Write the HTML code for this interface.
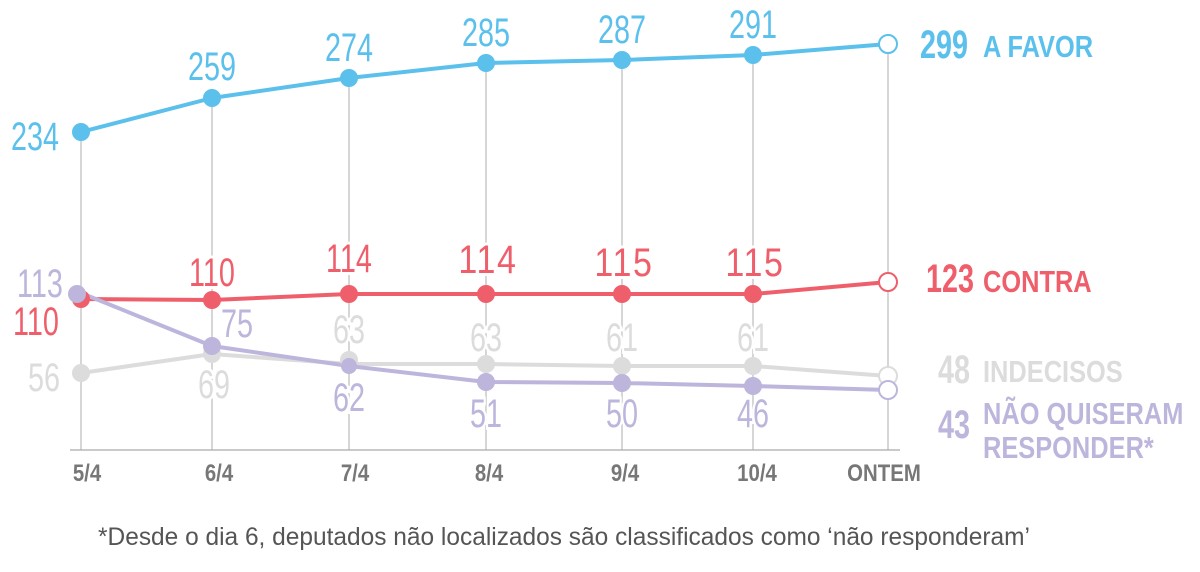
<!DOCTYPE html>
<html><head><meta charset="utf-8"><style>
html,body{margin:0;padding:0;background:#fff;}
svg text{font-family:"Liberation Sans",sans-serif;}
.n text{font-size:40px;paint-order:stroke;stroke:#fff;stroke-width:6px;text-anchor:middle;}
.ax text{font-size:24px;font-weight:bold;fill:#777;text-anchor:middle;}
.lg text{font-weight:bold;}
</style></head><body>
<svg width="1200" height="567" viewBox="0 0 1200 567">
<g stroke="#bbb" stroke-width="1.2">
<line x1="81" y1="132" x2="81" y2="450"/>
<line x1="212" y1="98" x2="212" y2="450"/>
<line x1="349" y1="78" x2="349" y2="450"/>
<line x1="486" y1="63" x2="486" y2="450"/>
<line x1="622" y1="60" x2="622" y2="450"/>
<line x1="753" y1="55" x2="753" y2="450"/>
<line x1="888" y1="44" x2="888" y2="450"/>
<line x1="70" y1="450" x2="900" y2="450" stroke="#aaa"/>
</g>
<g class="n">
<text transform="translate(35,150) scale(0.72,1)" fill="#5bc0eb">234</text>
<text transform="translate(212,80) scale(0.72,1)" fill="#5bc0eb">259</text>
<text transform="translate(349,61) scale(0.72,1)" fill="#5bc0eb">274</text>
<text transform="translate(486,46) scale(0.72,1)" fill="#5bc0eb">285</text>
<text transform="translate(622,43) scale(0.72,1)" fill="#5bc0eb">287</text>
<text transform="translate(753,38) scale(0.72,1)" fill="#5bc0eb">291</text>
<text transform="translate(36,335) scale(0.72,1)" fill="#ef5f6b">110</text>
<text transform="translate(212,286) scale(0.72,1)" fill="#ef5f6b">110</text>
<text transform="translate(349,272) scale(0.72,1)" fill="#ef5f6b">114</text>
<text transform="translate(488,273) scale(0.85,1)" fill="#ef5f6b" letter-spacing="2">114</text>
<text transform="translate(624,276) scale(0.85,1)" fill="#ef5f6b" letter-spacing="2">115</text>
<text transform="translate(755,276) scale(0.85,1)" fill="#ef5f6b" letter-spacing="2">115</text>
<text transform="translate(40,297) scale(0.72,1)" fill="#bdb5dc">113</text>
<text transform="translate(237,337) scale(0.72,1)" fill="#bdb5dc">75</text>
<text transform="translate(349,411) scale(0.72,1)" fill="#bdb5dc">62</text>
<text transform="translate(486,427) scale(0.72,1)" fill="#bdb5dc">51</text>
<text transform="translate(622,427) scale(0.72,1)" fill="#bdb5dc">50</text>
<text transform="translate(753,427) scale(0.72,1)" fill="#bdb5dc">46</text>
<text transform="translate(44,391) scale(0.72,1)" fill="#dcdcdc">56</text>
<text transform="translate(214,398) scale(0.72,1)" fill="#dcdcdc">69</text>
<text transform="translate(349,343) scale(0.72,1)" fill="#dcdcdc">63</text>
<text transform="translate(486,351) scale(0.72,1)" fill="#dcdcdc">63</text>
<text transform="translate(622,351) scale(0.72,1)" fill="#dcdcdc">61</text>
<text transform="translate(753,351) scale(0.72,1)" fill="#dcdcdc">61</text>
</g>
<g fill="none" stroke-width="4" stroke-linejoin="round">
<polyline stroke="#dcdcdc" points="81,373 212,354 349,364 486,364 622,366 753,366 888,376"/>
<polyline stroke="#ef5f6b" points="81,299 212,300 349,294 486,294 622,294 753,294 888,282"/>
<polyline stroke="#bdb5dc" points="81,293 212,346 349,366 486,382 622,383 753,386 888,390"/>
<polyline stroke="#5bc0eb" points="81,132 212,98 349,78 486,63 622,60 753,55 888,44"/>
</g>
<g>
<circle cx="81" cy="373" r="9" fill="#dcdcdc"/><circle cx="212" cy="354" r="9" fill="#dcdcdc"/><circle cx="349" cy="360" r="9" fill="#dcdcdc"/><circle cx="486" cy="364" r="9" fill="#dcdcdc"/><circle cx="622" cy="366" r="9" fill="#dcdcdc"/><circle cx="753" cy="366" r="9" fill="#dcdcdc"/>
<circle cx="81" cy="299" r="9" fill="#ef5f6b"/><circle cx="212" cy="300" r="9" fill="#ef5f6b"/><circle cx="349" cy="294" r="9" fill="#ef5f6b"/><circle cx="486" cy="294" r="9" fill="#ef5f6b"/><circle cx="622" cy="294" r="9" fill="#ef5f6b"/><circle cx="753" cy="294" r="9" fill="#ef5f6b"/>
<circle cx="77" cy="294" r="9" fill="#bdb5dc"/><circle cx="212" cy="346" r="9" fill="#bdb5dc"/><circle cx="349" cy="366" r="8" fill="#bdb5dc"/><circle cx="486" cy="382" r="9" fill="#bdb5dc"/><circle cx="622" cy="383" r="9" fill="#bdb5dc"/><circle cx="753" cy="386" r="9" fill="#bdb5dc"/>
<circle cx="81" cy="132" r="9" fill="#5bc0eb"/><circle cx="212" cy="98" r="9" fill="#5bc0eb"/><circle cx="349" cy="78" r="9" fill="#5bc0eb"/><circle cx="486" cy="63" r="9" fill="#5bc0eb"/><circle cx="622" cy="60" r="9" fill="#5bc0eb"/><circle cx="753" cy="55" r="9" fill="#5bc0eb"/>
<g fill="#fff" stroke-width="2">
<circle cx="888" cy="44" r="9" stroke="#5bc0eb"/>
<circle cx="888" cy="282" r="9" stroke="#ef5f6b"/>
<circle cx="888" cy="376" r="9" stroke="#dcdcdc"/>
<circle cx="888" cy="390" r="9" stroke="#bdb5dc"/>
</g>
</g>
<g class="lg">
<text transform="translate(920,58) scale(0.72,1)" fill="#5bc0eb" font-size="40">299</text>
<text transform="translate(983,57) scale(0.82,1)" fill="#5bc0eb" font-size="31">A FAVOR</text>
<text transform="translate(926,292) scale(0.72,1)" fill="#ef5f6b" font-size="40">123</text>
<text transform="translate(983,292) scale(0.82,1)" fill="#ef5f6b" font-size="31">CONTRA</text>
<text transform="translate(938,383) scale(0.72,1)" fill="#dcdcdc" font-size="40">48</text>
<text transform="translate(983,382) scale(0.82,1)" fill="#dcdcdc" font-size="31">INDECISOS</text>
<text transform="translate(938,438) scale(0.72,1)" fill="#bdb5dc" font-size="40">43</text>
<text transform="translate(983,424) scale(0.82,1)" fill="#bdb5dc" font-size="31">NÃO QUISERAM</text>
<text transform="translate(983,458) scale(0.82,1)" fill="#bdb5dc" font-size="31">RESPONDER*</text>
</g>
<g class="ax">
<text transform="translate(87,481) scale(0.85,1)">5/4</text>
<text transform="translate(219,481) scale(0.85,1)">6/4</text>
<text transform="translate(355,481) scale(0.85,1)">7/4</text>
<text transform="translate(489,481) scale(0.85,1)">8/4</text>
<text transform="translate(625,481) scale(0.85,1)">9/4</text>
<text transform="translate(757,481) scale(0.85,1)">10/4</text>
<text transform="translate(884,481) scale(0.85,1)">ONTEM</text>
</g>
<text x="98" y="545" textLength="932" lengthAdjust="spacingAndGlyphs" style="font-size:25px" fill="#555">*Desde o dia 6, deputados não localizados são classificados como ‘não responderam’</text>
</svg>
</body></html>
